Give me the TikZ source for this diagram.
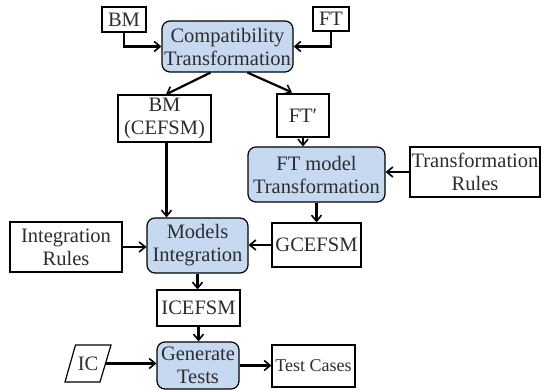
\documentclass[tikz,border=0pt]{standalone}
\usepackage{fontspec}
\setmainfont{Liberation Serif}
\usetikzlibrary{arrows.meta,calc}
\definecolor{procfill}{RGB}{198,217,241}
\definecolor{inktext}{RGB}{45,45,45}
\tikzset{
  base/.style={draw=black, line width=1.2pt, text=inktext, inner sep=0pt, align=center,
    font=\fontsize{20.5}{23}\selectfont},
  databox/.style={base, fill=white},
  procbox/.style={base, fill=procfill, rounded corners=8pt},
  flow/.style={line width=2.2pt, -{Straight Barb[length=6pt,width=10pt,line width=1.6pt]}}
}
\begin{document}
\begin{tikzpicture}[x=1pt,y=-1pt]
\useasboundingbox (0,0) rectangle (541,390);

% inputs of the compatibility step
\node[databox, minimum width=44pt, minimum height=25pt] (bm) at (124,19.5) {BM};
\node[databox, minimum width=36pt, minimum height=24pt] (ft) at (331,19) {FT};
\node[procbox, minimum width=131pt, minimum height=51pt] (compat) at (227.5,46.5) {Compatibility\\Transformation};

% intermediate models
\node[databox, minimum width=93pt, minimum height=47pt] (bmc) at (164.5,118.5) {BM\\(CEFSM)};
\node[databox, minimum width=52pt, minimum height=43pt] (ftp) at (303,115.5) {FT\char"2032};
\node[procbox, minimum width=137pt, minimum height=55pt] (ftm) at (316.5,174.5) {FT model\\Transformation};
\node[databox, minimum width=130pt, minimum height=50pt] (tr) at (475,172) {Transformation\\Rules};
\node[databox, minimum width=89pt, minimum height=44pt] (gc) at (316.5,245) {GCEFSM};

% integration
\node[procbox, minimum width=101pt, minimum height=55pt] (mi) at (197.5,245.5) {Models\\Integration};
\node[databox, minimum width=112pt, minimum height=50pt] (ir) at (66,247) {Integration\\Rules};
\node[databox, minimum width=83pt, minimum height=36pt] (ice) at (198.5,308) {ICEFSM};

% test generation
\node[procbox, minimum width=82pt, minimum height=47pt] (gt) at (198,365.5) {Generate\\Tests};
\node[base, draw=none, minimum width=35pt, minimum height=37pt] (ic) at (88,363.5) {IC};
\draw[line width=1.2pt] ($(ic)+(-12.5,-18.5)$) -- ($(ic)+(23,-18.5)$) -- ($(ic)+(12,18.5)$) -- ($(ic)+(-23,18.5)$) -- cycle;
\node[databox, minimum width=83pt, minimum height=42pt, font=\fontsize{18}{21}\selectfont] (tc) at (313.5,366) {Test Cases};

% connectors
\draw[flow] (bm.south) |- (compat.west);
\draw[flow] (ft.south) |- (compat.east);
\draw[flow] ($(compat.south)+(-17,0)$) -- ($(bmc.north)+(1.5,0)$);
\draw[flow] ($(compat.south)+(20,0)$) -- ($(ftp.north)+(-11,-1)$);
\draw[flow] (ftp.south) -- (ftp.south |- ftm.north);
\draw[flow] (tr.west) -- (tr.west -| ftm.east);
\draw[flow] (ftm.south) -- (gc.north);
\draw[flow] (gc.west) -- (gc.west -| mi.east);
\draw[flow] ($(bmc.south)+(2,0)$) -- ($(bmc.south |- mi.north)+(2,0)$);
\draw[flow] (ir.east) -- (ir.east -| mi.west);
\draw[flow] (mi.south) -- (mi.south |- ice.north);
\draw[flow] (ice.south) -- (ice.south |- gt.north);
\draw[flow] (ic.east) -- (ic.east -| gt.west);
\draw[flow] (gt.east) -- (gt.east -| tc.west);
\end{tikzpicture}
\end{document}
